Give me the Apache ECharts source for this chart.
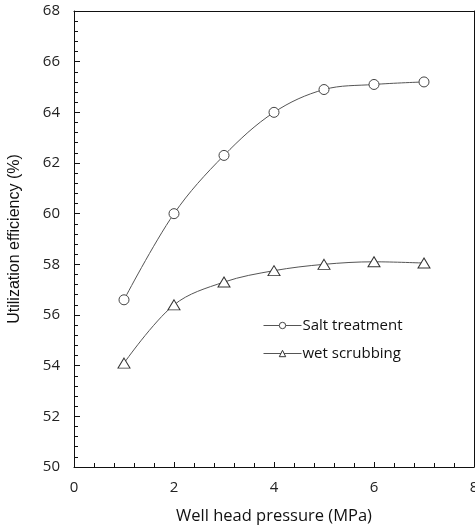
<!DOCTYPE html>
<html>
<head>
<meta charset="utf-8">
<script src="https://cdn.jsdelivr.net/npm/echarts@6/dist/echarts.min.js"></script>
<style>
  html, body { margin: 0; padding: 0; background: #fff; }
  #chart { width: 475px; height: 526px; }
</style>
</head>
<body>
<div id="chart"></div>
<script>
// Well head pressure (MPa)
const pressure = [1, 2, 3, 4, 5, 6, 7];
// Utilization efficiency (%)
const saltTreatment = [56.6, 60.0, 62.3, 64.0, 64.9, 65.1, 65.2];
const wetScrubbing = [54.1, 56.4, 57.3, 57.75, 58.0, 58.1, 58.05];

const seriesNames = ['Salt treatment', 'wet scrubbing'];
const xTitle = 'Well head pressure (MPa)';
const yTitle = 'Utilization efficiency (%)';

const font = '"Open Sans", "Liberation Sans", sans-serif';
const ink = '#111';
const lineInk = '#555';

const pairs = (xs, ys) => xs.map((x, i) => [x, ys[i]]);

// plain frame line used for the top and right edges of the plot box
const frameAxis = {
  show: true,
  axisLine: { show: true, onZero: false, lineStyle: { color: ink, width: 1 } },
  axisTick: { show: false }, axisLabel: { show: false }, splitLine: { show: false }
};

const chart = echarts.init(document.getElementById('chart'), null, { renderer: 'canvas' });

chart.setOption({
  animation: false,
  backgroundColor: '#fff',
  grid: { left: 74, right: 1, top: 11, bottom: 59, outerBoundsMode: 'none' },
  legend: {
    orient: 'vertical',
    left: 258, top: 313,
    itemWidth: 38, itemHeight: 8, itemGap: 13,
    itemStyle: { borderWidth: 1 },
    lineStyle: { width: 1 },
    textStyle: { fontFamily: font, fontSize: 15, color: '#111', padding: [0, 0, 0, -4] },
    data: seriesNames
  },
  xAxis: [
    {
      type: 'value', min: 0, max: 8, interval: 2, position: 'bottom',
      name: xTitle, nameLocation: 'middle', nameGap: 41,
      nameTextStyle: { fontFamily: font, fontSize: 16.5, color: '#111' },
      axisLine: { show: true, onZero: false, lineStyle: { color: ink, width: 1 } },
      axisTick: { show: true, inside: true, length: 5, lineStyle: { color: ink, width: 1 } },
      minorTick: { show: true, splitNumber: 5, length: 4, lineStyle: { color: ink, width: 1 } },
      axisLabel: { fontFamily: font, fontSize: 15, color: '#222', margin: 13, hideOverlap: false },
      splitLine: { show: false }
    },
    Object.assign({ type: 'value', min: 0, max: 8, position: 'top' }, frameAxis)
  ],
  yAxis: [
    {
      type: 'value', min: 50, max: 68, interval: 2, position: 'left',
      name: yTitle, nameLocation: 'middle', nameGap: 51,
      nameTextStyle: { fontFamily: '"Liberation Sans", Arial, sans-serif', fontSize: 16, color: '#111' },
      axisLine: { show: true, onZero: false, lineStyle: { color: ink, width: 1 } },
      axisTick: { show: true, inside: true, length: 6, lineStyle: { color: ink, width: 1 } },
      minorTick: { show: true, splitNumber: 5, length: 4, lineStyle: { color: ink, width: 1 } },
      axisLabel: { fontFamily: font, fontSize: 15, color: '#222', margin: 14 },
      splitLine: { show: false }
    },
    Object.assign({ type: 'value', min: 50, max: 68, position: 'right' }, frameAxis)
  ],
  series: [
    {
      name: seriesNames[0],
      type: 'line',
      data: pairs(pressure, saltTreatment),
      smooth: 0.35,
      symbol: 'circle', symbolSize: 10,
      lineStyle: { color: lineInk, width: 1 },
      itemStyle: { color: '#fff', borderColor: '#444', borderWidth: 1 }
    },
    {
      name: seriesNames[1],
      type: 'line',
      data: pairs(pressure, wetScrubbing),
      smooth: 0.35,
      symbol: 'triangle', symbolSize: [12, 10],
      lineStyle: { color: lineInk, width: 1 },
      itemStyle: { color: '#fff', borderColor: '#333', borderWidth: 1 }
    }
  ]
});
</script>
</body>
</html>
